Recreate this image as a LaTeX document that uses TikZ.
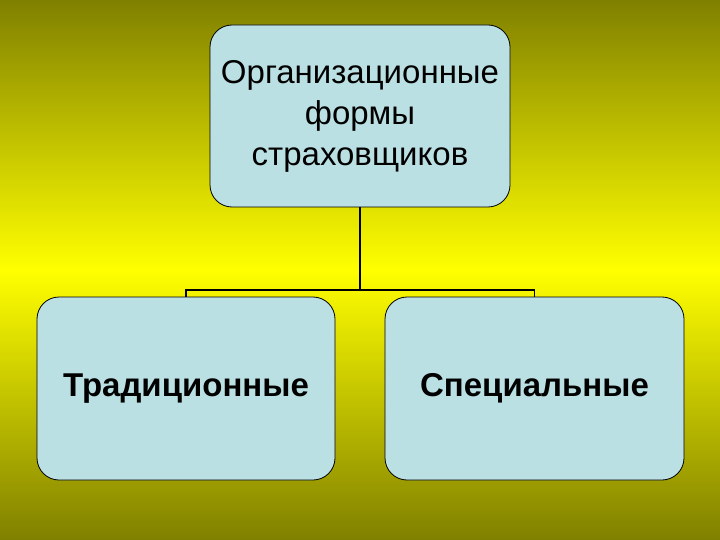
\documentclass[tikz,border=0pt]{standalone}
\usepackage{fontspec}
\setmainfont{Liberation Sans}
\definecolor{olivebg}{RGB}{128,128,0}
\definecolor{boxfill}{RGB}{187,224,227}
\begin{document}
\begin{tikzpicture}[x=1pt,y=-1pt,
  box/.style={draw=black,fill=boxfill,rounded corners=22pt,line width=0.8pt,align=center},
  conn/.style={draw=black,line width=1.5pt}]
\shade[top color=olivebg,bottom color=olivebg,middle color=yellow] (0,0) rectangle (720,540);
\useasboundingbox (0,0) rectangle (720,540);
\node[box,minimum width=300pt,minimum height=182pt,font=\fontsize{33}{41}\selectfont] (top) at (360,116) {Организационные\\формы\\страховщиков};
\node[box,minimum width=298pt,minimum height=183pt,font=\fontsize{33}{40}\selectfont\bfseries] (l) at (186,388.5) {Традиционные};
\node[box,minimum width=299pt,minimum height=183pt,font=\fontsize{33}{40}\selectfont\bfseries] (r) at (534.5,388.5) {Специальные};
\coordinate (j) at (360,290);
\draw[conn] (top.south) -- (j);
\draw[conn] (l.north) -- (l.north |- j) -- (r.north |- j) -- (r.north);
\end{tikzpicture}
\end{document}
